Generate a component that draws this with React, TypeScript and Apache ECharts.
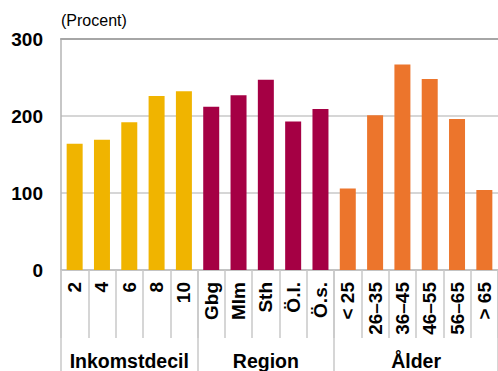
import React, { useEffect, useRef } from "react";
import * as echarts from "echarts";

// Kategorier per grupp
const incomeCategories = ["2", "4", "6", "8", "10"];
const regionCategories = ["Gbg", "Mlm", "Sth", "Ö.l.", "Ö.s."];
const ageCategories = ["< 25", "26–35", "36–45", "46–55", "56–65", "> 65"];

// Värden (procent)
const incomeValues = [164, 169, 192, 226, 232];
const regionValues = [212, 227, 247, 193, 209];
const ageValues = [106, 201, 267, 248, 196, 104];

const groupNames = ["Inkomstdecil", "Region", "Ålder"];
const groupColors = ["#F0B400", "#A50044", "#EC752C"];
const yTicks = [0, 100, 200, 300];

const FONT = "'Liberation Sans', Arial, Helvetica, sans-serif";

export default function App() {
  const ref = useRef<HTMLDivElement>(null);

  useEffect(() => {
    if (!ref.current) return;
    const chart = echarts.init(ref.current, undefined, { renderer: "svg" });

    const groups = [
      { cats: incomeCategories, vals: incomeValues },
      { cats: regionCategories, vals: regionValues },
      { cats: ageCategories, vals: ageValues },
    ];
    const categories: string[] = [];
    const data: any[] = [];
    const groupStarts: number[] = [];
    groups.forEach((g, gi) => {
      groupStarts.push(categories.length);
      g.cats.forEach((c, i) => {
        categories.push(c);
        data.push({ value: g.vals[i], itemStyle: { color: groupColors[gi] } });
      });
    });

    const gridColor = "#c8c8c8";

    chart.setOption({
      animation: false,
      grid: { left: 61, right: 0, top: 39, bottom: 101, containLabel: false },
      xAxis: [
        {
          type: "category",
          data: categories,
          position: "bottom",
          axisLine: { show: true, lineStyle: { color: "#bdbdbd", width: 1.5 } },
          axisTick: {
            show: true,
            interval: 0,
            length: 68,
            lineStyle: { color: gridColor, width: 1.5 },
          },
          axisLabel: {
            interval: 0,
            rotate: 90,
            margin: 12,
            color: "#000",
            fontSize: 19,
            fontWeight: "bold",
            fontFamily: FONT,
          },
        },
        {
          // group separators
          type: "category",
          data: categories,
          position: "bottom",
          axisLine: { show: false },
          axisTick: {
            show: true,
            interval: (i: number) => groupStarts.includes(i),
            length: 101,
            lineStyle: { color: gridColor, width: 1.5 },
          },
          axisLabel: { show: false },
        },
        {
          // top frame line
          type: "category",
          data: categories,
          position: "top",
          axisLine: { show: true, lineStyle: { color: "#a6a6a6", width: 2 } },
          axisTick: { show: false },
          axisLabel: { show: false },
        },
      ],
      yAxis: {
        type: "value",
        min: yTicks[0],
        max: yTicks[yTicks.length - 1],
        interval: 100,
        axisLine: { show: true, lineStyle: { color: "#b4b4b4", width: 1.5 } },
        axisTick: { show: false },
        splitLine: { show: true, lineStyle: { color: gridColor, width: 1.5 } },
        axisLabel: {
          margin: 18,
          color: "#000",
          fontSize: 19,
          fontWeight: "bold",
          fontFamily: FONT,
        },
      },
      series: [
        {
          type: "bar",
          xAxisIndex: 0,
          data,
          barWidth: 16,
        },
      ],
    });

    // Group labels centred under each group of categories
    const ends = groupStarts.map((s, i) =>
      i + 1 < groupStarts.length ? groupStarts[i + 1] - 1 : categories.length - 1
    );
    const graphics: any[] = groupNames.map((name, i) => {
      const a = chart.convertToPixel({ xAxisIndex: 0 }, groupStarts[i]) as number;
      const b = chart.convertToPixel({ xAxisIndex: 0 }, ends[i]) as number;
      return {
        type: "text",
        x: (a + b) / 2,
        y: 361,
        style: {
          text: name,
          align: "center",
          verticalAlign: "middle",
          fill: "#000",
          font: `bold 19.5px ${FONT}`,
        },
      };
    });
    graphics.push({
      type: "text",
      x: 61,
      y: 20,
      style: {
        text: "(Procent)",
        align: "left",
        verticalAlign: "middle",
        fill: "#000",
        font: `16px ${FONT}`,
      },
    });
    chart.setOption({ graphic: graphics });

    return () => chart.dispose();
  }, []);

  return (
    <div
      ref={ref}
      style={{ position: "absolute", left: 0, top: 0, width: 498, height: 371 }}
    />
  );
}
